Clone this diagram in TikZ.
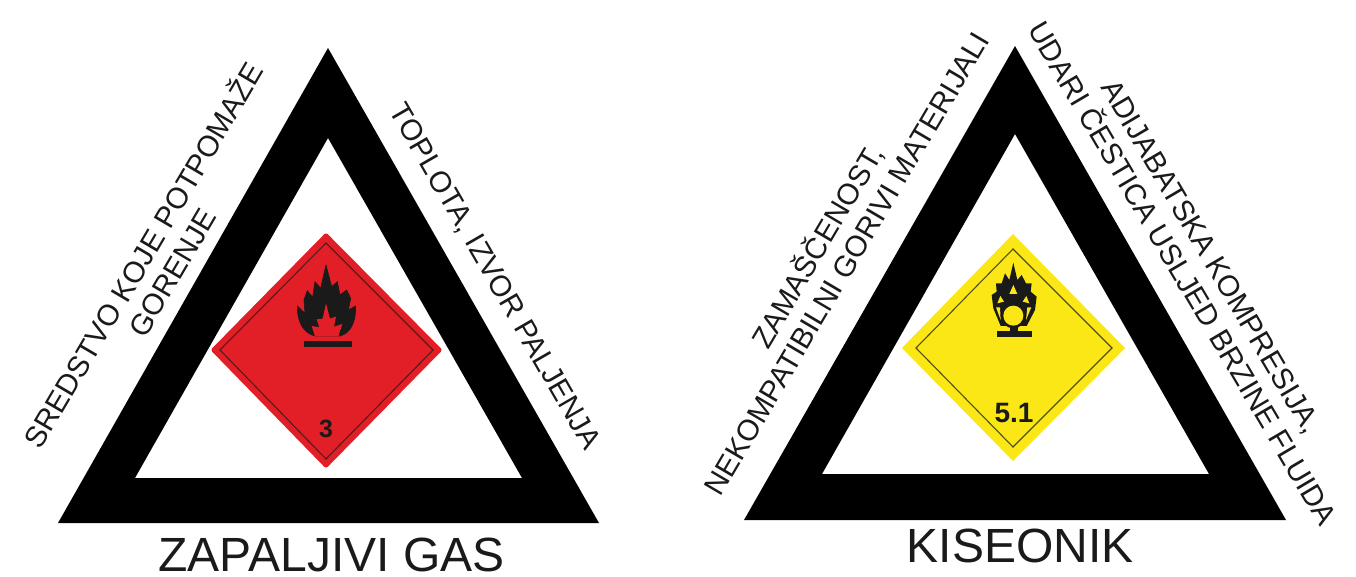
\documentclass[tikz,border=0pt]{standalone}
\usepackage{fontspec}
\setmainfont{Liberation Sans}
\definecolor{hazred}{HTML}{E21E26}
\definecolor{hazyellow}{HTML}{FBE715}
\definecolor{ink}{HTML}{1A1A1A}
\tikzset{
  side/.style={font=\fontsize{29.5}{33.5}\selectfont,align=center,text=ink,inner sep=0pt},
  big/.style={font=\fontsize{48}{48}\selectfont,text=ink,inner sep=0pt},
  num/.style={text=ink,inner sep=0pt},
  warn/.style={fill=black,even odd rule},
}
\begin{document}
\begin{tikzpicture}[x=1pt,y=-1pt]
\useasboundingbox (0,0) rectangle (1356,577);
% triangles
\fill[warn] (328,48) -- (599,523) -- (58,523) -- cycle (328,138) -- (522,478) -- (135,478) -- cycle;
\fill[warn] (1015,46) -- (1286,520) -- (744,520) -- cycle (1015,134) -- (1209,474) -- (822,474) -- cycle;
% red diamond
\fill[hazred,draw=hazred,line width=5pt,line join=round] (326,236) -- (439,350) -- (326,465) -- (214,350) -- cycle;
\draw[ink!70!hazred,line width=1.1pt] (326,243) -- (433,350) -- (326,459) -- (220,350) -- cycle;
\begin{scope}[shift={(200,220)},x=0.3333pt,y=-0.3333pt]
\fill[ink,draw=ink,line width=0.6pt,line join=round] (345,348) .. controls (315,340) and (292,315) .. (292,258) -- (315,280) -- (312,240) -- (322,212) -- (338,232) -- (345,185) -- (362,205) -- (378,135) -- (395,200) -- (412,185) -- (420,225) -- (440,210) -- (452,235) -- (445,270) -- (467,258) .. controls (468,310) and (450,340) .. (420,348) -- cycle;
\fill[hazred] (345,349) -- (335,318) -- (358,322) -- (350,298) -- (368,296) -- (378,250) -- (390,296) -- (408,290) -- (402,320) -- (427,312) -- (415,349) -- cycle;
\fill[ink] (313,362) rectangle (457,382);
\end{scope}
\node[num,font=\bfseries\fontsize{25}{25}\selectfont] (n3) at (326,429) {3};
% yellow diamond
\fill[hazyellow] (1013,234) -- (1125,348) -- (1013,461) -- (902,348) -- cycle;
\draw[ink!75!hazyellow,line width=1.1pt] (1013,249) -- (1112,348) -- (1013,447) -- (916,348) -- cycle;
\begin{scope}[shift={(890,220)},x=0.3333pt,y=-0.3333pt]
\fill[ink] (332,318) -- (310,265) -- (305,225) -- (320,215) -- (318,190) -- (335,190) -- (345,160) -- (358,180) -- (370,128) -- (382,180) -- (395,165) -- (408,190) -- (425,190) -- (422,215) -- (440,230) -- (435,270) -- (410,318) -- cycle;
\fill[hazyellow] (370,195) -- (382,222) -- (358,222) -- cycle;
\fill[hazyellow] (331,228) -- (342,245) -- (322,250) -- cycle;
\fill[hazyellow] (409,228) -- (418,250) -- (398,245) -- cycle;
\fill[hazyellow] (318,262) -- (330,262) -- (332,300) -- cycle;
\fill[hazyellow] (424,262) -- (412,262) -- (408,300) -- cycle;
\fill[ink] (370,287) circle[radius=38];
\fill[hazyellow] (370,287) circle[radius=30];
\fill[ink] (360,320) rectangle (383,336);
\fill[ink] (320,333) rectangle (427,350);
\end{scope}
\node[num,font=\bfseries\fontsize{28}{28}\selectfont] (n51) at (1014,413) {5.1};
% labels
\node[side,rotate=59.5] (t1) at (156,263) {SREDSTVO KOJE POTPOMAŽE\\GORENJE};
\node[side,rotate=-60] (t2) at (494,277) {TOPLOTA, IZVOR PALJENJA};
\node[big] (t3) at (331.5,555) {ZAPALJIVI GAS};
\node[side,rotate=59.5] (t4) at (830,254) {ZAMAŠČENOST,\\NEKOMPATIBILNI GORIVI MATERIJALI};
\node[side,rotate=-59.5] (t5) at (1197,265) {ADIJABATSKA KOMPRESIJA,\\UDARI ČESTICA USLJED BRZINE FLUIDA};
\node[big] (t6) at (1020,546) {KISEONIK};
\end{tikzpicture}
\end{document}
